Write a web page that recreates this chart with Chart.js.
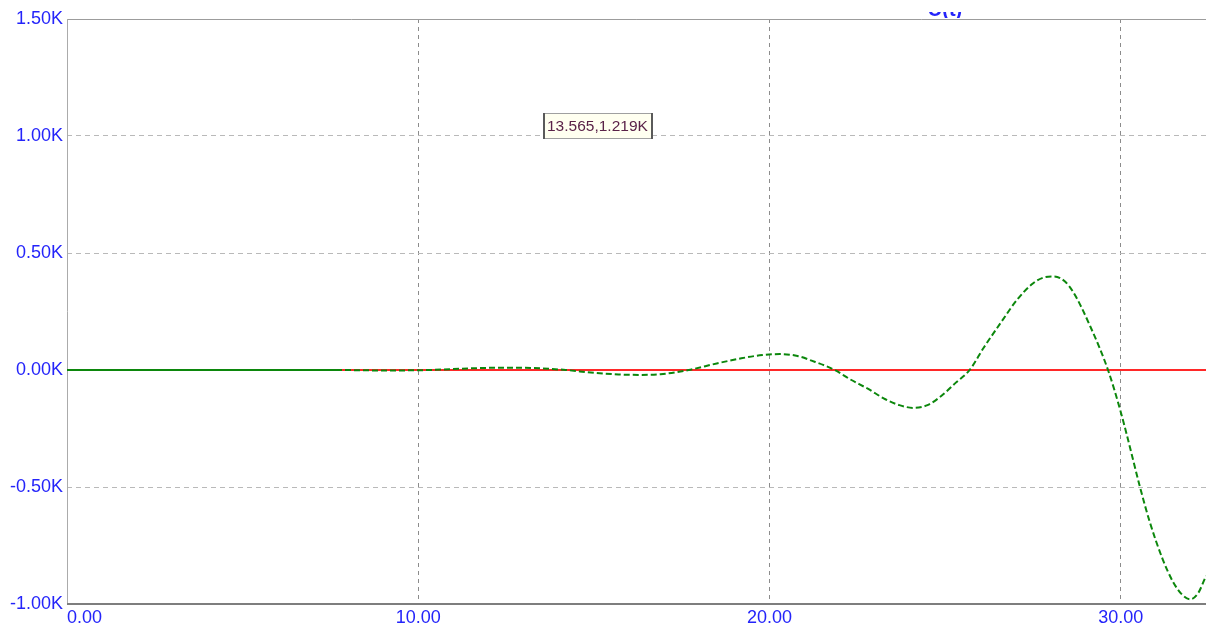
<!DOCTYPE html>
<html>
<head>
<meta charset="utf-8">
<style>
html,body{margin:0;padding:0;background:#ffffff;overflow:hidden}
#wrap{width:1206px;height:625px;position:relative}
</style>
<script src="https://cdn.jsdelivr.net/npm/chart.js@4.4.1/dist/chart.umd.min.js"></script>
</head>
<body>
<div id="wrap"><canvas id="c" width="1206" height="625"></canvas></div>
<script>
// ---- data (x in time units, y in K) ----
const xTicks = [0, 10, 20, 30];
const xMin = 0;
const xMax = 32.43;
const yTicks = [-1.0, -0.5, 0, 0.5, 1.0, 1.5];

const greenX = [0, 7.66, 9.0, 10.3, 11.5, 12.5, 13.5, 14.2, 15.0, 15.7, 16.3, 16.9, 17.7, 18.5, 19.2, 19.8, 20.3, 20.8, 21.2, 21.86, 22.3, 22.8, 23.3, 23.7, 24.1, 24.5, 24.9, 25.3, 25.7, 26.1, 26.6, 27.05, 27.5, 27.8, 28.1, 28.4, 28.65, 29.13, 29.64, 29.98, 30.18, 30.55, 30.83, 31.2, 31.49, 31.75, 31.98, 32.2, 32.43];
const greenY = [0, 0, -0.002, 0, 0.007, 0.010, 0.007, 0, -0.012, -0.019, -0.021, -0.018, 0, 0.028, 0.050, 0.064, 0.068, 0.060, 0.040, 0, -0.040, -0.080, -0.125, -0.150, -0.162, -0.150, -0.110, -0.055, 0, 0.095, 0.205, 0.300, 0.370, 0.395, 0.400, 0.380, 0.333, 0.188, 0, -0.167, -0.280, -0.500, -0.650, -0.810, -0.905, -0.960, -0.980, -0.955, -0.880];

const redX = [7.66, 32.43];
const redY = [0, 0];

const solidUntil = 7.66;

const markerX = 13.565;
const markerY = 1.10;
const markerText = '13.565,1.219K';
const titleText = 'U(t)';

// ---- build ----
const greenData = greenX.map((x, i) => ({x: x, y: greenY[i]}));
const redData = redX.map((x, i) => ({x: x, y: redY[i]}));

const BLUE = 'rgb(36,36,250)';
const FONT = '"Liberation Sans", Arial, sans-serif';

const framePlugin = {
  id: 'frame',
  beforeDatasetsDraw(chart) {
    const {ctx, chartArea: a} = chart;
    ctx.save();
    ctx.lineWidth = 1;
    ctx.strokeStyle = '#9c9c9c';
    ctx.beginPath();
    ctx.moveTo(a.left, a.top + 0.5);
    ctx.lineTo(a.right, a.top + 0.5);
    ctx.stroke();
    ctx.strokeStyle = '#ababab';
    ctx.beginPath();
    ctx.moveTo(a.left + 0.5, a.top);
    ctx.lineTo(a.left + 0.5, a.bottom);
    ctx.stroke();
    ctx.lineWidth = 2;
    ctx.strokeStyle = '#7e7e7e';
    ctx.beginPath();
    ctx.moveTo(a.left, a.bottom);
    ctx.lineTo(a.right, a.bottom);
    ctx.stroke();
    ctx.restore();
  },
  afterDraw(chart) {
    const {ctx} = chart;
    const xs = chart.scales.x, ys = chart.scales.y;
    // readout box
    const bx = Math.round(xs.getPixelForValue(markerX));
    const by = Math.round(ys.getPixelForValue(markerY));
    ctx.save();
    ctx.font = '15.5px ' + FONT;
    const tw = ctx.measureText(markerText).width;
    const bw = Math.round(tw + 9), bh = 26;
    ctx.fillStyle = '#fffff0';
    ctx.fillRect(bx, by, bw, bh);
    ctx.strokeStyle = '#a0a0a0';
    ctx.lineWidth = 1;
    ctx.strokeRect(bx + 0.5, by + 0.5, bw - 1, bh - 1);
    ctx.fillStyle = '#5a5a5a';
    ctx.fillRect(bx, by, 2, bh);
    ctx.fillRect(bx + bw - 2, by, 2, bh);
    ctx.fillStyle = '#5a2248';
    ctx.textBaseline = 'middle';
    ctx.textAlign = 'left';
    ctx.fillText(markerText, bx + 4, by + bh / 2 + 1);
    ctx.restore();
    // clipped title at the very top
    ctx.save();
    ctx.beginPath();
    ctx.rect(0, 12, chart.width, 6);
    ctx.clip();
    ctx.font = 'bold 20px ' + FONT;
    ctx.fillStyle = BLUE;
    ctx.textAlign = 'center';
    ctx.textBaseline = 'alphabetic';
    ctx.fillText(titleText, 945, 16);
    ctx.restore();
  }
};

new Chart(document.getElementById('c'), {
  type: 'line',
  data: {
    datasets: [
      {
        label: 'green',
        data: greenData,
        borderColor: '#0c870c',
        borderWidth: 2,
        pointRadius: 0,
        cubicInterpolationMode: 'monotone',
        fill: false,
        segment: {
          borderDash: c => (c.p0.parsed.x < solidUntil - 0.01 ? [] : [6, 3])
        }
      },
      {
        label: 'red',
        data: redData,
        borderColor: 'rgb(255,40,40)',
        borderWidth: 2,
        pointRadius: 0,
        fill: false
      }
    ]
  },
  options: {
    responsive: false,
    animation: false,
    events: [],
    layout: {padding: {top: 19, right: 0, bottom: 0, left: 0}},
    plugins: {legend: {display: false}, tooltip: {enabled: false}, title: {display: false}},
    scales: {
      x: {
        type: 'linear',
        min: xMin,
        max: xMax,
        afterBuildTicks: s => {
          s.ticks = xTicks.map(v => ({value: v}));
          s.ticks.push({value: xMax});
        },
        afterFit: s => { s.height = 21; },
        ticks: {
          align: 'inner',
          padding: 0,
          maxRotation: 0,
          autoSkip: false,
          color: BLUE,
          font: {family: FONT, size: 18},
          callback: v => (xTicks.indexOf(v) >= 0 ? v.toFixed(2) : '')
        },
        grid: {
          drawTicks: true,
          tickLength: 3,
          tickColor: 'rgba(0,0,0,0)',
          color: c => (c.tick && c.tick.value > xTicks[xTicks.length - 1] + 0.5 ? 'rgba(0,0,0,0)' : '#8c8c8c'),
          lineWidth: 1
        },
        border: {display: false, dash: [4, 4]}
      },
      y: {
        type: 'linear',
        min: yTicks[0],
        max: yTicks[yTicks.length - 1],
        afterBuildTicks: s => { s.ticks = yTicks.map(v => ({value: v})); },
        afterFit: s => { s.width = 67; },
        ticks: {
          padding: 4,
          color: BLUE,
          font: {family: FONT, size: 18},
          callback: v => v.toFixed(2) + 'K'
        },
        grid: {drawTicks: false, color: '#b9b9b9', lineWidth: 1},
        border: {display: false, dash: [5, 4]}
      }
    }
  },
  plugins: [framePlugin]
});
</script>
</body>
</html>
